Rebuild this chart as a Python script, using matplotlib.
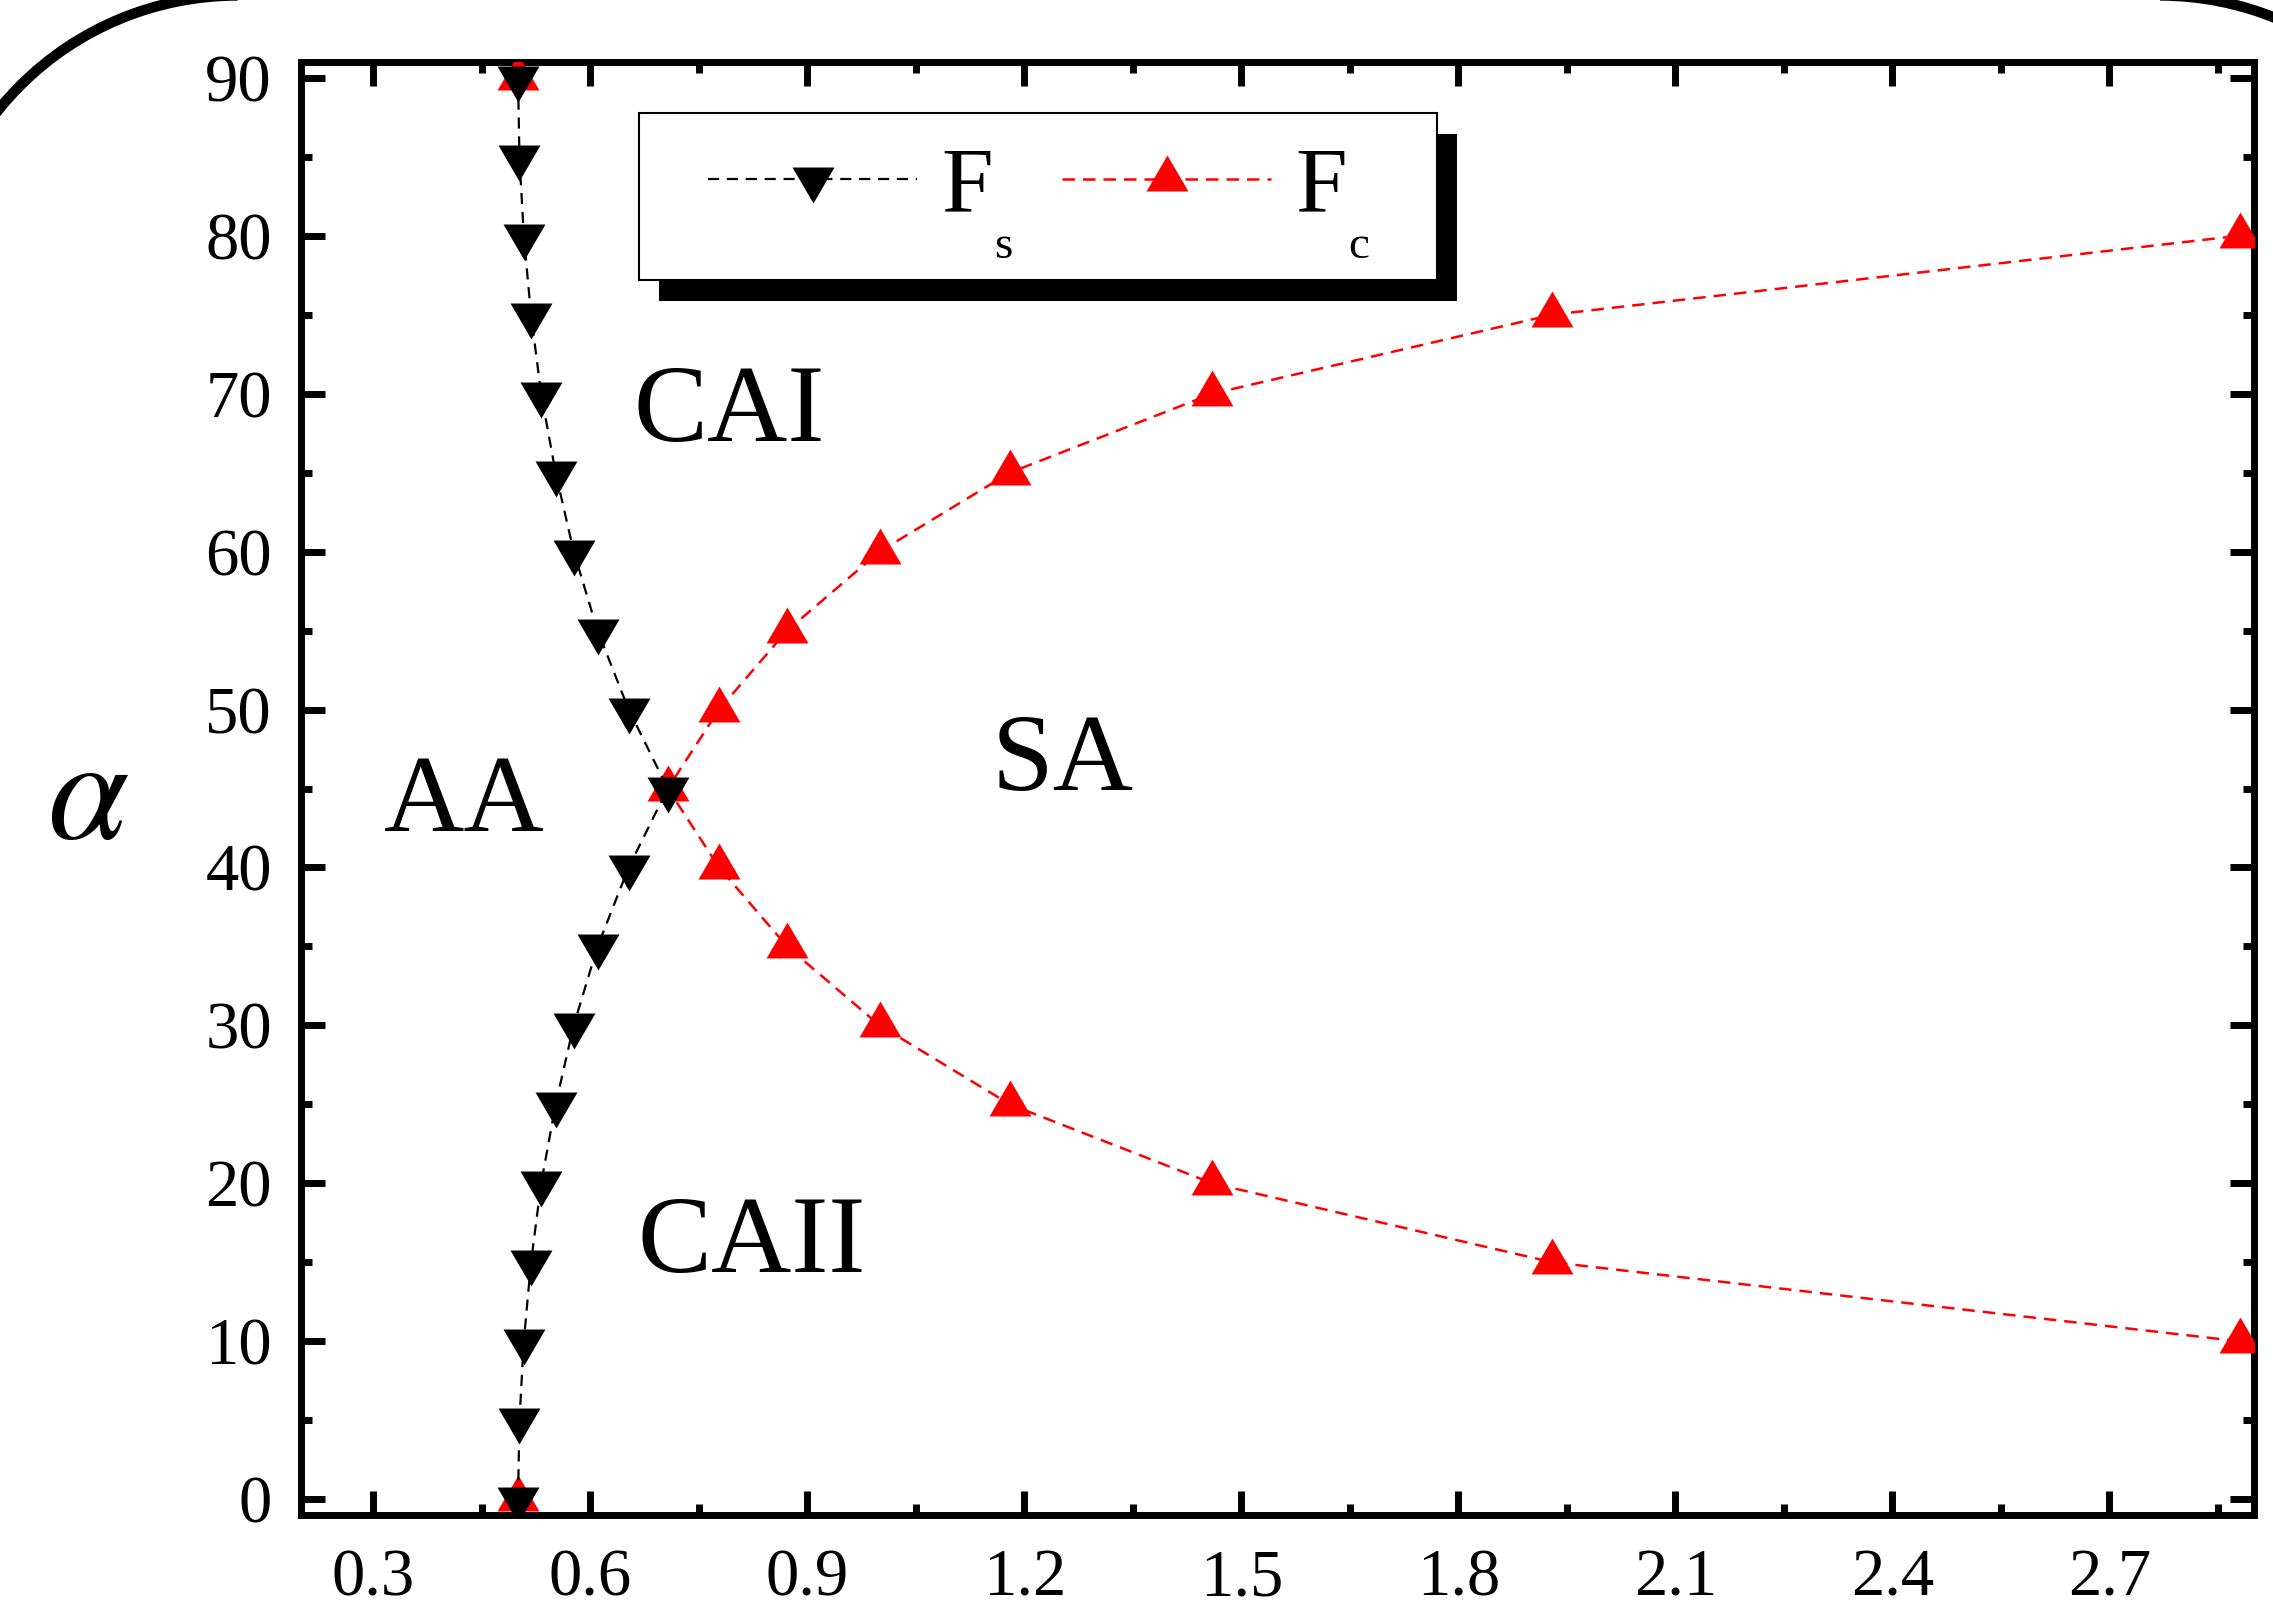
import matplotlib
matplotlib.use("Agg")
import matplotlib.pyplot as plt
from matplotlib.ticker import MultipleLocator, FormatStrFormatter
from matplotlib.patches import Arc, Rectangle

plt.rcParams['font.family'] = ['Liberation Serif', 'DejaVu Serif']
plt.rcParams['mathtext.fontset'] = 'stix'

# data
alpha_s = [0, 5, 10, 15, 20, 25, 30, 35, 40, 45, 50, 55, 60, 65, 70, 75, 80, 85, 90]
F_s = [0.500, 0.502, 0.508, 0.518, 0.532, 0.552, 0.577, 0.610, 0.653, 0.707,
       0.653, 0.610, 0.577, 0.552, 0.532, 0.518, 0.508, 0.502, 0.500]

alpha_c = [10, 15, 20, 25, 30, 35, 40, 45, 50, 55, 60, 65, 70, 75, 80]
F_c = [2.88, 1.93, 1.46, 1.18, 1.00, 0.872, 0.778, 0.707,
       0.778, 0.872, 1.00, 1.18, 1.46, 1.93, 2.88]
alpha_c_end = [0, 90]
F_c_end = [0.5, 0.5]

regions = ["CAI", "AA", "SA", "CAII"]
region_x = [0.66, 0.315, 1.155, 0.665]
region_y = [67.0, 42.3, 44.9, 14.4]

W, H = 2273, 1609
fig = plt.figure(figsize=(W / 100, H / 100), dpi=100)
ax = fig.add_axes([301 / W, 94 / H, 1953 / W, 1453 / H])

# triangles centred on their centroid, a bit wider than tall
tri_up = [(0, 1), (-0.875, -0.5), (0.875, -0.5), (0, 1)]
tri_dn = [(0, -1), (-0.875, 0.5), (0.875, 0.5), (0, -1)]
ms = 34.5

ax.plot(F_c_end, alpha_c_end, ls='none', marker=tri_up, ms=ms, mew=0,
        color='red', zorder=3)
line_c, = ax.plot(F_c, alpha_c, color='red', lw=1.8, ls=(0, (5, 3.2)),
                  marker=tri_up, ms=ms, mew=0, zorder=3)
line_s, = ax.plot(F_s, alpha_s, color='black', lw=1.6, ls=(0, (5, 3.5)),
                  marker=tri_dn, ms=ms, mew=0, zorder=4)

ax.set_xlim(0.2, 2.9)
ax.set_ylim(-1, 91)
ax.xaxis.set_major_locator(MultipleLocator(0.3))
ax.xaxis.set_minor_locator(MultipleLocator(0.15))
ax.xaxis.set_major_formatter(FormatStrFormatter('%.1f'))
ax.yaxis.set_major_locator(MultipleLocator(10))
ax.yaxis.set_minor_locator(MultipleLocator(5))

for s in ax.spines.values():
    s.set_linewidth(5)
ax.tick_params(which='both', direction='in', top=True, right=True, width=5,
               labelsize=48)
ax.tick_params(which='major', length=17)
ax.tick_params(which='minor', length=8)
ax.tick_params(axis='x', pad=24)
ax.tick_params(axis='y', pad=21)

ax.set_ylabel(r'$\alpha$', fontsize=105, rotation=0, ha='center', va='center')
ax.yaxis.set_label_coords(-0.109, 0.49)

for name, x, y in zip(regions, region_x, region_y):
    ax.text(x, y, name, fontsize=80, ha='left', va='baseline')

# legend: frame and shadow drawn by hand
leg = ax.legend([line_s, line_c], ['F', 'F'], ncol=2, frameon=False,
                fontsize=67, handlelength=2.25, handletextpad=0.26,
                columnspacing=0.74, borderpad=0, borderaxespad=0,
                numpoints=1, loc='center left',
                bbox_to_anchor=(708 / W, (H - 189) / H),
                bbox_transform=fig.transFigure)

box_x0, box_y0, box_w, box_h = 639, H - 280, 798, 167
fig.add_artist(Rectangle(((box_x0 + 20) / W, (box_y0 - 21) / H), box_w / W, box_h / H,
                         transform=fig.transFigure, facecolor='black',
                         edgecolor='none', zorder=5))
fig.add_artist(Rectangle((box_x0 / W, box_y0 / H), box_w / W, box_h / H,
                         transform=fig.transFigure, facecolor='white',
                         edgecolor='black', lw=1.5, zorder=6))
leg.set_zorder(7)
fig.add_artist(leg)
ax.legend_ = None

fig.canvas.draw()
renderer = fig.canvas.get_renderer()
for t, sub in zip(leg.get_texts(), ['s', 'c']):
    bb = t.get_window_extent(renderer)
    fig.text(bb.x1 + 1, bb.y0 - 26, sub, fontsize=34, ha='left', va='baseline',
             transform=None, zorder=8)

# rounded frame corners of the page (rest lies outside the canvas)
R = 3.07
for cx, t1, t2 in [(2.375, 90, 180), (21.60, 0, 90)]:
    fig.add_artist(Arc((cx, 13.065), 2 * R, 2 * R, theta1=t1, theta2=t2,
                       transform=fig.dpi_scale_trans, edgecolor='black',
                       lw=7.5, clip_on=False))

fig.savefig('out.png', dpi=100)
